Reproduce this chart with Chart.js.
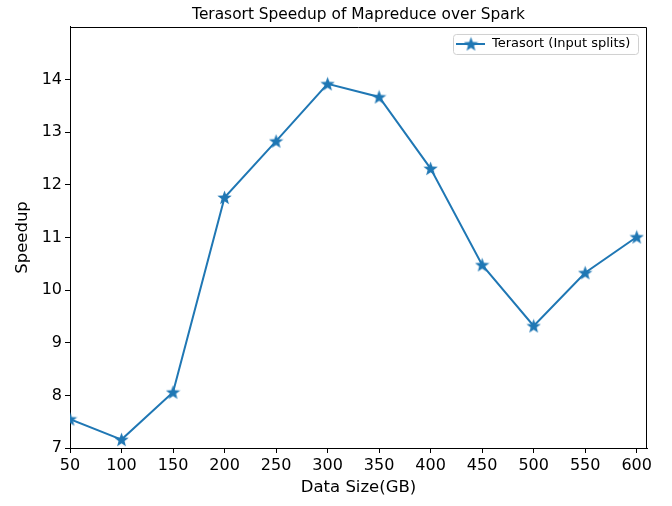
<!DOCTYPE html>
<html>
<head>
<meta charset="utf-8">
<script src="https://cdn.jsdelivr.net/npm/chart.js@4"></script>
<style>body{margin:0;background:#fff}</style>
</head>
<body>
<canvas id="chart" width="672" height="506"></canvas>
<script>
const chartTitle = 'Terasort Speedup of Mapreduce over Spark';
const seriesName = 'Terasort (Input splits)';
const sizes = [50, 100, 150, 200, 250, 300, 350, 400, 450, 500, 550, 600];
const speedup = [7.55, 7.16, 8.06, 11.76, 12.83, 13.92, 13.67, 12.31, 10.48, 9.32, 10.33, 11.01];
const xTicks = [50, 100, 150, 200, 250, 300, 350, 400, 450, 500, 550, 600];
const yTicks = [7, 8, 9, 10, 11, 12, 13, 14];

const blue = '#1f77b4';

// filled five point star, like matplotlib's '*' marker
function makeStar(size, color) {
  const cv = document.createElement('canvas');
  cv.width = size;
  cv.height = size;
  const c = cv.getContext('2d');
  const r = size / 2, ri = r * 0.42;
  c.beginPath();
  for (let i = 0; i < 10; i++) {
    const rad = i % 2 === 0 ? r : ri;
    const ang = -Math.PI / 2 + i * Math.PI / 5;
    const px = r + rad * Math.cos(ang), py = r + 0.6 + rad * Math.sin(ang);
    if (i === 0) c.moveTo(px, py); else c.lineTo(px, py);
  }
  c.closePath();
  c.fillStyle = color;
  c.fill();
  return cv;
}
const star = makeStar(15, blue);

const frame = {
  id: 'frame',
  afterDraw(chart) {
    const c = chart.ctx, a = chart.chartArea;
    c.save();
    c.strokeStyle = '#000';
    c.lineWidth = 1;
    c.beginPath();
    c.moveTo(Math.round(a.left) + 0.5, Math.round(a.top) + 0.5);
    c.lineTo(Math.round(a.right) - 0.5, Math.round(a.top) + 0.5);
    c.lineTo(Math.round(a.right) - 0.5, Math.round(a.bottom));
    c.stroke();
    c.restore();
  }
};

const legendBox = {
  id: 'legendBox',
  afterDraw(chart) {
    const c = chart.ctx, a = chart.chartArea;
    const w = 185, h = 20;
    const x = a.right - 9 - w, y = a.top + 7;
    c.save();
    c.beginPath();
    c.roundRect(x + 0.5, y + 0.5, w, h, 3);
    c.fillStyle = 'rgba(255,255,255,0.8)';
    c.fill();
    c.strokeStyle = '#d0d0d0';
    c.lineWidth = 1;
    c.stroke();
    const cy = y + h / 2;
    c.strokeStyle = blue;
    c.lineWidth = 2;
    c.beginPath();
    c.moveTo(x + 3, cy);
    c.lineTo(x + 32, cy);
    c.stroke();
    c.drawImage(star, x + 18 - star.width / 2, cy - star.height / 2);
    c.fillStyle = '#000';
    c.font = '13px "DejaVu Sans"';
    c.textBaseline = 'middle';
    c.fillText(chart.data.datasets[0].label, x + 39, cy);
    c.restore();
  }
};

Chart.defaults.font.family = '"DejaVu Sans", sans-serif';
Chart.defaults.color = '#000';

const ctx = document.getElementById('chart').getContext('2d');
new Chart(ctx, {
  type: 'line',
  data: {
    datasets: [{
      label: seriesName,
      data: sizes.map((x, i) => ({ x: x, y: speedup[i] })),
      borderColor: blue,
      backgroundColor: blue,
      borderWidth: 2,
      pointStyle: star,
      pointRadius: 7,
      pointHoverRadius: 7,
      tension: 0,
      fill: false,
      clip: 0
    }]
  },
  options: {
    responsive: false,
    animation: false,
    devicePixelRatio: 1,
    layout: { padding: { left: 0, right: 25, top: 0, bottom: 0 } },
    plugins: {
      legend: { display: false },
      tooltip: { enabled: false },
      title: {
        display: true,
        text: chartTitle,
        fullSize: false,
        color: '#000',
        font: { size: 15.4, weight: 'normal' },
        padding: { top: 6, bottom: 2.5 }
      }
    },
    scales: {
      x: {
        type: 'linear',
        min: 50,
        max: 610,
        afterBuildTicks: s => { s.ticks = xTicks.map(v => ({ value: v })); },
        afterFit: s => { s.height = 58; },
        grid: { drawOnChartArea: false, tickLength: 5, color: '#000' },
        border: { color: '#000', width: 1 },
        ticks: { font: { size: 16 }, color: '#000', padding: 3, maxRotation: 0, autoSkip: false },
        title: { display: true, text: 'Data Size(GB)', color: '#000', font: { size: 16.5 }, padding: { top: 0, bottom: 8 } }
      },
      y: {
        min: 7,
        max: 15,
        afterBuildTicks: s => { s.ticks = yTicks.map(v => ({ value: v })); },
        afterFit: s => { s.width = 70; },
        grid: { drawOnChartArea: false, tickLength: 5, color: '#000' },
        border: { color: '#000', width: 1 },
        ticks: { font: { size: 16 }, color: '#000', padding: 3 },
        title: { display: true, text: 'Speedup', color: '#000', font: { size: 16.5 }, padding: { top: 13, bottom: 0 } }
      }
    }
  },
  plugins: [frame, legendBox]
});
</script>
</body>
</html>
